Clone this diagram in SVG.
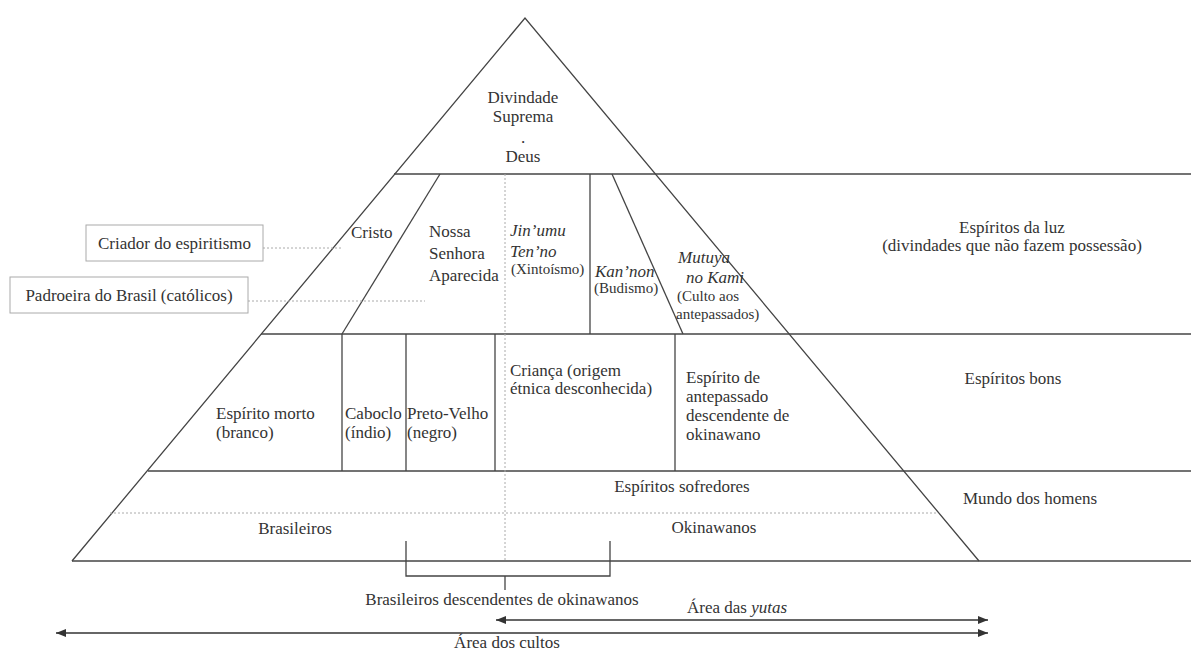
<svg xmlns="http://www.w3.org/2000/svg" width="1191" height="654" viewBox="0 0 1191 654">
<defs>
<marker id="ah" viewBox="0 0 10 8" refX="10" refY="4" markerWidth="10" markerHeight="8" markerUnits="userSpaceOnUse" orient="auto-start-reverse"><path d="M0,0 L10,4 L0,8 z" fill="#333"/></marker>
<style>
.ln{stroke:#444;stroke-width:1.3;fill:none}
.dt{stroke:#aaa;stroke-width:1;stroke-dasharray:2 2;fill:none}
.ar{stroke:#333;stroke-width:1.3;fill:none;marker-start:url(#ah);marker-end:url(#ah)}
.box{fill:#fff;stroke:#aaa;stroke-width:1}
text{font-family:"Liberation Serif","Times New Roman",serif;font-size:17px;fill:#333}
.sm{font-size:15px}
.it{font-style:italic}
.mid{text-anchor:middle}
</style>
</defs>
<rect width="1191" height="654" fill="#fff"/>
<g id="connectors">
<polyline class="ln" points="72,561 525,18 979,561"/>
<line class="ln" x1="394" y1="174" x2="1191" y2="174"/>
<line class="ln" x1="261" y1="334" x2="1191" y2="334"/>
<line class="ln" x1="148" y1="471" x2="1191" y2="471"/>
<line class="dt" x1="110" y1="513" x2="938" y2="513"/>
<line class="ln" x1="72" y1="561" x2="1191" y2="561"/>
<line class="ln" x1="440" y1="174" x2="342" y2="334"/>
<line class="ln" x1="590" y1="174" x2="590" y2="334"/>
<line class="ln" x1="612" y1="174" x2="683" y2="334"/>
<line class="dt" x1="505" y1="174" x2="505" y2="561"/>
<line class="ln" x1="342" y1="334" x2="342" y2="471"/>
<line class="ln" x1="406" y1="334" x2="406" y2="471"/>
<line class="ln" x1="495" y1="334" x2="495" y2="471"/>
<line class="ln" x1="675" y1="334" x2="675" y2="471"/>
<line class="dt" x1="263" y1="248" x2="342" y2="248"/>
<line class="dt" x1="248" y1="301" x2="425" y2="301"/>
<polyline class="ln" points="406,541 406,576 610,576 610,541"/>
<line class="ln" x1="505" y1="576" x2="505" y2="590"/>
<line class="ar" x1="496" y1="620" x2="988" y2="620"/>
<line class="ar" x1="56" y1="633" x2="988" y2="633"/>
</g>
<g id="deus"><text class="mid" x="523" y="103">Divindade</text><text class="mid" x="523" y="122">Suprema</text><text class="mid" x="523" y="143">.</text><text class="mid" x="523" y="162">Deus</text></g>
<g id="cristo"><text x="351" y="238">Cristo</text></g>
<g id="nossa-senhora"><text x="429" y="237">Nossa</text><text x="429" y="259">Senhora</text><text x="429" y="281">Aparecida</text></g>
<g id="jinumu"><text class="it" x="510" y="236">Jin’umu</text><text class="it" x="510" y="257">Ten’no</text><text class="sm" x="511" y="274">(Xintoísmo)</text></g>
<g id="kannon"><text class="it" x="595" y="277">Kan’non</text><text class="sm" x="594" y="293">(Budismo)</text></g>
<g id="mutuya"><text class="it" x="678" y="263">Mutuya</text><text class="it" x="686" y="283">no Kami</text><text class="sm" x="677" y="301">(Culto aos</text><text class="sm" x="676" y="319">antepassados)</text></g>
<g id="espiritos-luz"><text class="mid" x="1012" y="233">Espíritos da luz</text><text class="mid" x="1012" y="251">(divindades que não fazem possessão)</text></g>
<g id="criador"><rect class="box" x="86" y="225" width="177" height="36"/><text class="mid" x="174.5" y="249">Criador do espiritismo</text></g>
<g id="padroeira"><rect class="box" x="10" y="277" width="238" height="36"/><text class="mid" x="129" y="301">Padroeira do Brasil (católicos)</text></g>
<g id="espirito-morto"><text x="216" y="419">Espírito morto</text><text x="216" y="438">(branco)</text></g>
<g id="caboclo"><text x="345" y="419">Caboclo</text><text x="345" y="438">(índio)</text></g>
<g id="preto-velho"><text x="407" y="419">Preto-Velho</text><text x="407" y="438">(negro)</text></g>
<g id="crianca"><text x="510" y="376">Criança (origem</text><text x="510" y="394">étnica desconhecida)</text></g>
<g id="antepassado"><text x="686" y="383">Espírito de</text><text x="686" y="402">antepassado</text><text x="686" y="421">descendente de</text><text x="686" y="440">okinawano</text></g>
<g id="espiritos-bons"><text class="mid" x="1013" y="384">Espíritos bons</text></g>
<g id="sofredores"><text class="mid" x="682" y="492">Espíritos sofredores</text></g>
<g id="mundo"><text class="mid" x="1030" y="504">Mundo dos homens</text></g>
<g id="brasileiros"><text class="mid" x="295" y="534">Brasileiros</text></g>
<g id="okinawanos"><text class="mid" x="714" y="533">Okinawanos</text></g>
<g id="descendentes"><text class="mid" x="502" y="605">Brasileiros descendentes de okinawanos</text></g>
<g id="area-yutas"><text x="687" y="613">Área das <tspan class="it">yutas</tspan></text></g>
<g id="area-cultos"><text class="mid" x="507" y="648">Área dos cultos</text></g>
</svg>
